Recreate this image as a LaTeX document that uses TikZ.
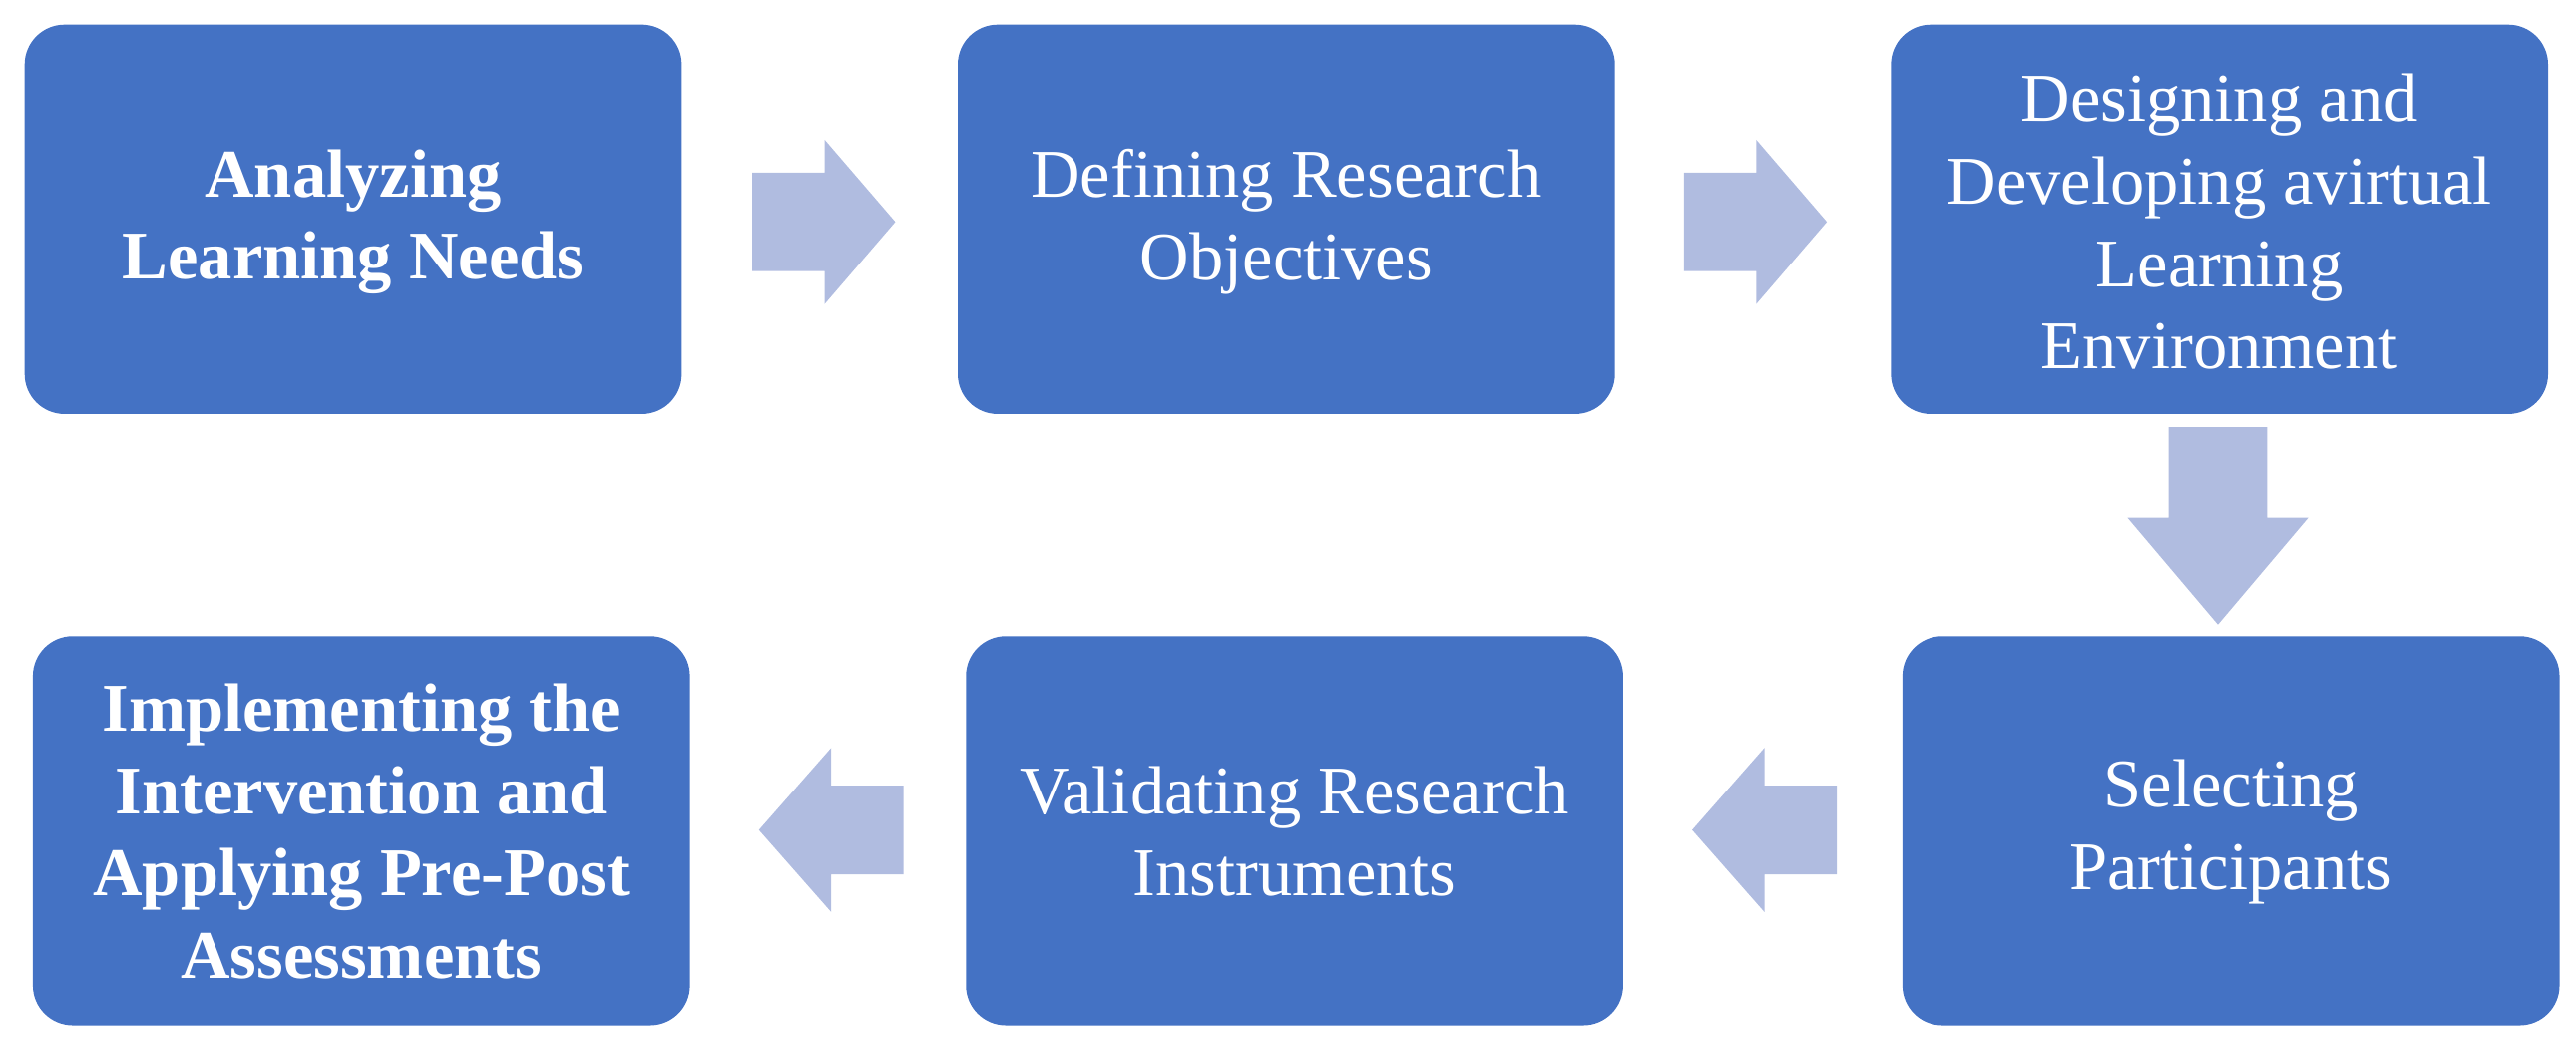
\documentclass[tikz,border=0pt]{standalone}
\usepackage{fontspec}
\setmainfont{Liberation Serif}
\begin{document}
\begin{tikzpicture}[x=0.01647cm,y=-0.01647cm,
  box/.style={fill=boxblue,draw=none,rounded corners=0.4cm,inner sep=0pt},
  lbl/.style={text=white,align=center,font=\fontsize{19.5}{23.5}\selectfont},
  arr/.style={fill=arrblue,draw=none}]
\definecolor{boxblue}{HTML}{4472C4}
\definecolor{arrblue}{HTML}{B0BCE0}
\useasboundingbox (0,0) rectangle (1568,641);
\fill[box] (15,15) rectangle (415,252) coordinate (b1);
\fill[box] (583,15) rectangle (983,252);
\fill[box] (1151,15) rectangle (1551,252);
\fill[box] (1158,387) rectangle (1558,624);
\fill[box] (588,387) rectangle (988,624);
\fill[box] (20,387) rectangle (420,624);
\node[lbl,font=\fontsize{19.5}{23.5}\selectfont\bfseries] (t1) at (215,135) {Analyzing\\Learning Needs};
\node[lbl] (t2) at (783,135) {Defining Research\\Objectives};
\node[lbl] (t3) at (1351,135) {Designing and\\Developing avirtual\\Learning\\Environment};
\node[lbl] (t4) at (1358,506) {Selecting\\Participants};
\node[lbl] (t5) at (788,506) {Validating Research\\Instruments};
\node[lbl,font=\fontsize{19.5}{23.5}\selectfont\bfseries] (t6) at (220,506) {Implementing the\\Intervention and\\Applying Pre-Post\\Assessments};
\fill[arr] (458,105) -- (502,105) -- (502,85) -- (545,135) -- (502,185) -- (502,165) -- (458,165) -- cycle;
\fill[arr] (1025,105) -- (1069,105) -- (1069,85) -- (1112,135) -- (1069,185) -- (1069,165) -- (1025,165) -- cycle;
\fill[arr] (1320,260) -- (1380,260) -- (1380,315) -- (1405,315) -- (1350,380) -- (1295,315) -- (1320,315) -- cycle;
\fill[arr] (1118,478) -- (1074,478) -- (1074,455) -- (1030,505) -- (1074,555) -- (1074,532) -- (1118,532) -- cycle;
\fill[arr] (550,478) -- (506,478) -- (506,455) -- (462,505) -- (506,555) -- (506,532) -- (550,532) -- cycle;
\end{tikzpicture}
\end{document}
